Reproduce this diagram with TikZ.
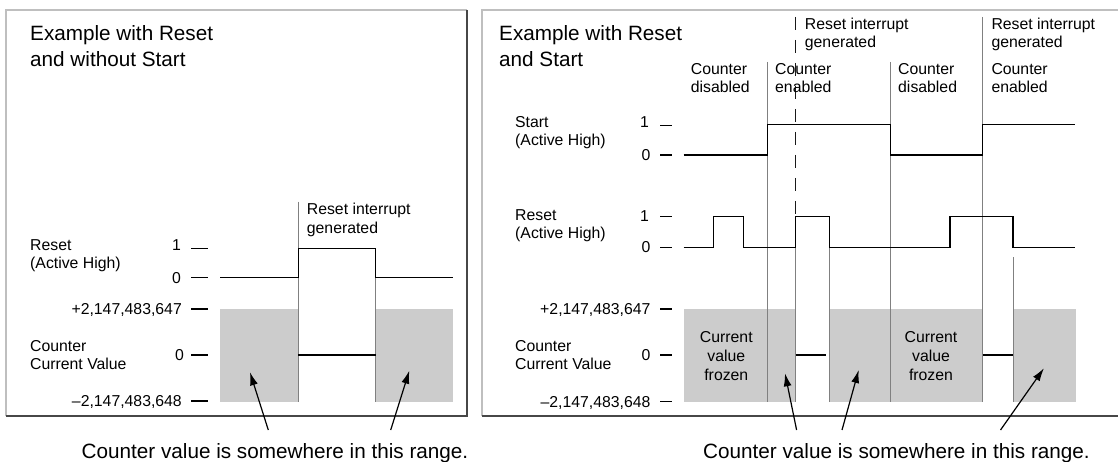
\documentclass[tikz,border=0pt]{standalone}
\usepackage{fontspec}
\setmainfont{Liberation Sans}
\usetikzlibrary{arrows.meta}
\begin{document}
\begin{tikzpicture}[x=1pt,y=-1pt,
  lbl/.style={inner sep=0pt, font=\fontsize{15.8}{18}\selectfont},
  frz/.style={inner sep=0pt, font=\fontsize{15.8}{19}\selectfont},
  ttl/.style={inner sep=0pt, font=\fontsize{20.7}{26}\selectfont},
  sig/.style={line width=1.3pt, black, line join=miter},
  guide/.style={line width=0.9pt, black!50},
  tickmark/.style={line width=1.1pt, black},
  band/.style={fill=black!20, draw=none},
  ptr/.style={line width=1.2pt, -{Latex[length=13pt,width=8pt]}},
  lite/.style={line width=1.6pt, black!25},
  darkedge/.style={line width=2.2pt, black!72},
  irq/.style={line width=1.6pt, black!90, dash pattern=on 13pt off 10pt},
]
\useasboundingbox (0,0) rectangle (1118,462);

% ---------- frames ----------
\draw[lite] (6,416) -- (6,10) -- (467,10);
\draw[darkedge] (467,10) -- (467,416) -- (6,416);
\draw[lite] (482,416) -- (482,10) -- (1118,10);
\draw[darkedge] (482,416) -- (1118,416);

% ================= LEFT PANEL =================
\node[ttl, anchor=base west] (titleL) at (30,41)
  {\begin{tabular}[t]{@{}l@{}}Example with Reset\\and without Start\end{tabular}};

\fill[band] (220,309) rectangle (298.3,401.7);
\fill[band] (375.7,309) rectangle (452.7,401.7);

\draw[guide] (298.3,201.7) -- (298.3,401.7);
\draw[guide] (375.7,248.3) -- (375.7,401.7);

\node[lbl, anchor=base west] (irqL) at (306.7,215)
  {\begin{tabular}[t]{@{}l@{}}Reset interrupt\\generated\end{tabular}};

\node[lbl, anchor=base west] (resetL) at (30,250.5)
  {\begin{tabular}[t]{@{}l@{}}Reset\\(Active High)\end{tabular}};
\node[lbl, anchor=base east] (r1L) at (181,250.7) {1};
\node[lbl, anchor=base east] (r0L) at (181,283.2) {0};
\node[lbl, anchor=base east] (maxL) at (182,314.7) {+2,147,483,647};
\node[lbl, anchor=base west] (cntL) at (30,351.4)
  {\begin{tabular}[t]{@{}l@{}}Counter\\Current Value\end{tabular}};
\node[lbl, anchor=base east] (c0L) at (184,360.5) {0};
\node[lbl, anchor=base east] (minL) at (182,406.7) {–2,147,483,648};

\foreach \yy in {248.3,277.7,309,355,401}
  \draw[tickmark] (191,\yy) -- (208,\yy);

\draw[sig] (220,277.7) -- (298.3,277.7) -- (298.3,248.3) -- (375.7,248.3)
  -- (375.7,277.7) -- (452.7,277.7);
\draw[sig] (298.3,355) -- (375.7,355);

\coordinate (a1s) at (268.3,430);
\coordinate (a1e) at (250,372.3);
\coordinate (a2s) at (390.7,430);
\coordinate (a2e) at (409.3,370.7);
\draw[ptr] (a1s) -- (a1e);
\draw[ptr] (a2s) -- (a2e);

\node[inner sep=0pt, anchor=base, font=\fontsize{20.7}{26}\selectfont] (capL) at (275,458)
  {Counter value is somewhere in this range.};

% ================= RIGHT PANEL =================
\node[ttl, anchor=base west] (titleR) at (499,41)
  {\begin{tabular}[t]{@{}l@{}}Example with Reset\\and Start\end{tabular}};

\fill[band] (684,309) rectangle (795.5,401.7);
\fill[band] (829.5,309) rectangle (982.5,401.7);
\fill[band] (1013,309) rectangle (1075.5,401.7);

\draw[guide] (767.3,62) -- (767.3,401.7);
\draw[guide] (890.5,62) -- (890.5,401.7);
\draw[guide] (982.5,17) -- (982.5,401.7);
\draw[guide] (795.5,247.3) -- (795.5,401.7);
\draw[guide] (829.5,247.3) -- (829.5,401.7);
\draw[guide] (1013,257) -- (1013,401.7);
\draw[irq] (795.5,17) -- (795.5,216.7);

\node[lbl, anchor=base west] (irqR1) at (804.7,30)
  {\begin{tabular}[t]{@{}l@{}}Reset interrupt\\generated\end{tabular}};
\node[lbl, anchor=base west] (irqR2) at (991.3,30)
  {\begin{tabular}[t]{@{}l@{}}Reset interrupt\\generated\end{tabular}};

\node[lbl, anchor=base west] (dis1) at (690.7,75)
  {\begin{tabular}[t]{@{}l@{}}Counter\\disabled\end{tabular}};
\node[lbl, anchor=base west] (en1) at (775,75)
  {\begin{tabular}[t]{@{}l@{}}Counter\\enabled\end{tabular}};
\node[lbl, anchor=base west] (dis2) at (898,75)
  {\begin{tabular}[t]{@{}l@{}}Counter\\disabled\end{tabular}};
\node[lbl, anchor=base west] (en2) at (991.3,75)
  {\begin{tabular}[t]{@{}l@{}}Counter\\enabled\end{tabular}};

\node[lbl, anchor=base west] (startR) at (515,127.7)
  {\begin{tabular}[t]{@{}l@{}}Start\\(Active High)\end{tabular}};
\node[lbl, anchor=base east] (s1R) at (649,127.7) {1};
\node[lbl, anchor=base east] (s0R) at (650.5,160.7) {0};

\node[lbl, anchor=base west] (resetR) at (515,220.7)
  {\begin{tabular}[t]{@{}l@{}}Reset\\(Active High)\end{tabular}};
\node[lbl, anchor=base east] (r1R) at (649,221.7) {1};
\node[lbl, anchor=base east] (r0R) at (650.5,253) {0};

\node[lbl, anchor=base east] (maxR) at (650.7,314.7) {+2,147,483,647};
\node[lbl, anchor=base west] (cntR) at (515,351.7)
  {\begin{tabular}[t]{@{}l@{}}Counter\\Current Value\end{tabular}};
\node[lbl, anchor=base east] (c0R) at (650.5,360.7) {0};
\node[lbl, anchor=base east] (minR) at (650.7,407.4) {–2,147,483,648};

\foreach \yy in {125.5,155,216.7,247.3,309,355,401.7}
  \draw[tickmark] (660,\yy) -- (672,\yy);

\draw[sig] (683.5,155) -- (767.3,155) -- (767.3,124.7) -- (890.5,124.7)
  -- (890.5,155) -- (982.5,155) -- (982.5,124.7) -- (1075,124.7);
\draw[sig] (683.5,247.3) -- (713.5,247.3) -- (713.5,216.7) -- (743.5,216.7)
  -- (743.5,247.3) -- (795.5,247.3) -- (795.5,216.7) -- (829.5,216.7)
  -- (829.5,247.3) -- (950,247.3) -- (950,216.7) -- (1013,216.7)
  -- (1013,247.3) -- (1075,247.3);
\draw[sig] (795.5,355) -- (826,355);
\draw[sig] (982.5,355) -- (1013,355);

\node[frz, anchor=base] (frz1) at (726.3,342.4)
  {\begin{tabular}[t]{@{}c@{}}Current\\value\\frozen\end{tabular}};
\node[frz, anchor=base] (frz2) at (931,342.4)
  {\begin{tabular}[t]{@{}c@{}}Current\\value\\frozen\end{tabular}};

\coordinate (b1s) at (796.6,430);
\coordinate (b1e) at (785,373.3);
\coordinate (b2s) at (842,430);
\coordinate (b2e) at (858.7,370);
\coordinate (b3s) at (1000.5,430);
\coordinate (b3e) at (1043.9,368.3);
\draw[ptr] (b1s) -- (b1e);
\draw[ptr] (b2s) -- (b2e);
\draw[ptr] (b3s) -- (b3e);

\node[inner sep=0pt, anchor=base, font=\fontsize{20.7}{26}\selectfont] (capR) at (896.5,458)
  {Counter value is somewhere in this range.};
\end{tikzpicture}
\end{document}
